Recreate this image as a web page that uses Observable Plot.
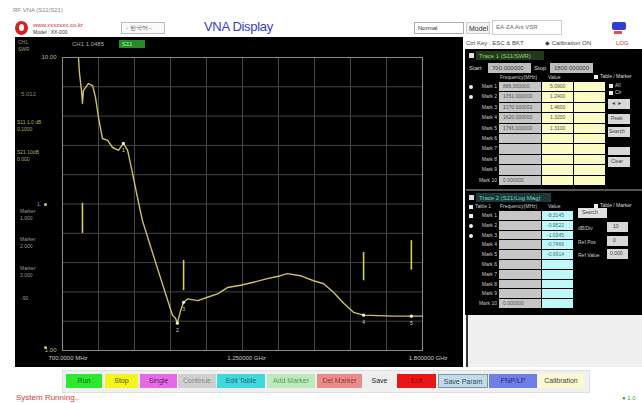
<!DOCTYPE html>
<html><head><meta charset="utf-8">
<script src="https://cdn.jsdelivr.net/npm/d3@7"></script>
<script src="https://cdn.jsdelivr.net/npm/@observablehq/plot@0.6"></script>
<style>
html,body{margin:0;padding:0;background:#fff;}
#root{position:relative;width:642px;height:403px;overflow:hidden;background:#fff;font-family:"Liberation Sans",Arial,sans-serif;}
.a{position:absolute;white-space:nowrap;line-height:1;}
</style></head>
<body><div id="root"></div>
<script>
// ---------- data ----------
const freqStart = 700, freqStop = 1800;           // MHz
const traceFreq = [749,752,758,761,764,779,792,801,810,822,838,853,871,886,899,914,929,944,990,1036,1045,1051,1061,1070,1082,1113,1143,1174,1204,1244,1284,1326,1366,1387,1427,1467,1498,1528,1559,1589,1620,1711,1800];
const traceSwr  = [9.92,8.82,7.72,6.97,7.72,8.15,8.02,7.30,6.24,5.29,5.21,4.93,4.82,5.09,4.82,4.02,3.33,2.78,1.91,1.32,1.29,1.24,1.37,1.46,1.50,1.48,1.52,1.56,1.64,1.67,1.71,1.76,1.80,1.83,1.80,1.73,1.69,1.58,1.45,1.35,1.32,1.31,1.31];
const markerFreq = [886,1051,1070,1620,1766];
const markerSwr  = [5.09,1.24,1.46,1.32,1.31];
const markerS21  = [-8.3145,-0.9522,-1.0345,-0.7466,-0.6914];
const pointerFreq = [761,1070,1620,1766];
const pointerTop  = [3.18,2.03,2.16,2.37];
const pointerBot  = [2.51,1.60,1.73,1.88];
const yTickValues = [10,1];
const yTickLabels = ["10.00","1.00"];
const xTickLabels = ["700.0000 MHz","1.250000 GHz","1.800000 GHz"];
const buttonLabels = ["Run","Stop","Single","Continue","Edit Table","Add Marker","Del Marker","Save","Exit","Save Param","PNP/LP","Calibration"];
const buttonColors = ["#2de82d","#f5f51e","#e46be4","#cfcfcf","#3fd9dd","#bde9bd","#ea8a8a","#efefef","#e81717","#c2dbe6","#6f7fe6","#fbf8d2"];
const buttonText   = ["#0a6a0a","#555500","#6a1a6a","#8a8a8a","#1a6a7a","#5aa05a","#9a3a3a","#222","#a00","#2a4a6a","#2a2a8a","#444"];

// ---------- helpers ----------
const root = document.getElementById("root");
function el(x,y,w,h,css,txt){const d=document.createElement("div");d.className="a";d.style.left=x+"px";d.style.top=y+"px";if(w!=null)d.style.width=w+"px";if(h!=null)d.style.height=h+"px";if(css)d.style.cssText+=css;if(txt!=null)d.textContent=txt;root.appendChild(d);return d;}

// ---------- header ----------
el(13,7,null,null,"font-size:6px;color:#888","RF VNA (S11/S21)");
el(15,21,13,14,"border-radius:50%;background:#d42020");
el(19,24,5,8,"background:#fff;border-radius:50%;width:5px;height:7px");
el(33,22,null,null,"font-size:6px;color:#d03030","www.xxxxxxx.co.kr");
el(33,30,null,null,"font-size:5px;color:#333","Model : XX-000");
el(121,22,44,12,"border:1px solid #bbb;background:#fafafa;font-size:6px;color:#555;padding:2px 0 0 4px;box-sizing:border-box","- 한국어 -");
el(204,20,null,null,"font-size:13px;color:#3340c8;letter-spacing:-0.3px","VNA Display");
el(414,22,50,12,"border:1px solid #aaa;background:#fff;font-size:6px;color:#333;padding:2px 0 0 3px;box-sizing:border-box","Normal");
el(466,22,24,12,"border:1px solid #ccc;background:#f4f4f4;font-size:7px;color:#333;padding:2px 0 0 2px;box-sizing:border-box","Model");
el(492,20,70,15,"border:1px solid #ccc;background:#fff;font-size:6px;color:#666;padding:3px 0 0 3px;box-sizing:border-box","EA-ZA   Ant   VSR");
el(612,22,14,8,"background:#2f3fd0;border-radius:2px");
el(614,31,8,3,"background:#e05050");
el(466,40,null,null,"font-size:6px;color:#444","Ctrl Key : ESC & BKT");
el(545,40,null,null,"font-size:6px;color:#444","◆ Calibration ON");
el(616,40,null,null,"font-size:6px;color:#e03030","LOG");

// ---------- main plot ----------
const trace = traceFreq.map((f,i)=>({f, v: traceSwr[i]}));
const markers = markerFreq.map((f,i)=>({f, v: markerSwr[i], n: String(i+1)}));
const pointers = pointerFreq.map((f,i)=>({f, top: pointerTop[i], bot: pointerBot[i]}));
const xGrid = d3.range(11).map(k => freqStart + k*(freqStop-freqStart)/10);
const yGrid = d3.range(11).map(k => Math.pow(10, k/10));
const yLab = yTickValues.map((v,i)=>({v, t: yTickLabels[i]}));
const xLab = [freqStart, (freqStart+freqStop)/2, freqStop].map((f,i)=>({f, t: xTickLabels[i]}));

const chart = Plot.plot({
  width: 448, height: 330,
  marginLeft: 47, marginTop: 20, marginRight: 41, marginBottom: 17,
  style: {background: "#000", color: "#bbb", fontSize: "7px", fontFamily: "Liberation Sans, Arial, sans-serif", overflow: "visible"},
  x: {domain: [freqStart, freqStop], axis: null},
  y: {type: "log", domain: [1, 10], axis: null},
  marks: [
    Plot.ruleX(xGrid, {stroke: "#464646", strokeWidth: 1}),
    Plot.ruleY(yGrid, {stroke: "#464646", strokeWidth: 1}),
    Plot.frame({stroke: "#8c8c8c"}),
    Plot.line(trace, {x: "f", y: "v", stroke: "#cbc266", strokeWidth: 1.4}),
    Plot.ruleX(pointers, {x: "f", y1: "top", y2: "bot", stroke: "#d6cf55", strokeWidth: 1.6}),
    Plot.dot(markers, {x: "f", y: "v", r: 1.6, fill: "#eee"}),
    Plot.text(markers, {x: "f", y: "v", text: "n", dy: 7, fill: "#ddd", fontSize: 5}),
    Plot.text(yLab, {y: "v", text: "t", frameAnchor: "left", dx: -6, textAnchor: "end", fill: "#bdbd8a", fontSize: 6}),
    Plot.text(xLab.slice(0,1), {x: "f", text: "t", frameAnchor: "bottom", dy: 9, dx: -14, textAnchor: "start", fill: "#ccc", fontSize: 6}),
    Plot.text(xLab.slice(1,2), {x: "f", text: "t", frameAnchor: "bottom", dy: 9, dx: 4, textAnchor: "middle", fill: "#ccc", fontSize: 6}),
    Plot.text(xLab.slice(2,3), {x: "f", text: "t", frameAnchor: "bottom", dy: 9, dx: 25, textAnchor: "end", fill: "#ccc", fontSize: 6})
  ]
});
const wrap = el(15,37,448,330,"background:#000");
wrap.appendChild(chart);

// overlay texts in plot area
el(18,40,null,null,"font-size:5px;color:#9a9a7a","CH1");
el(18,47,null,null,"font-size:5px;color:#9a9a7a","SWR");
el(72,41,null,null,"font-size:6px;color:#aaa","CH1  1.0485");
el(119,40,26,8,"background:#2a8a2a;font-size:6px;color:#9f9;padding:1px 0 0 3px;box-sizing:border-box","S11");
el(21,91,null,null,"font-size:6px;color:#8a8a6a","5.012");
el(17,120,null,null,"font-size:5px;color:#aab05a","S11 1.0 dB");
el(17,127,null,null,"font-size:5px;color:#aab05a","0.1000");
el(17,150,null,null,"font-size:5px;color:#aab05a","S21 10dB");
el(17,157,null,null,"font-size:5px;color:#aab05a","0.000");
el(37,202,null,null,"font-size:5px;color:#aaa","1.");
el(44,203,3,3,"background:#cc4;border-radius:50%");
el(20,209,null,null,"font-size:5px;color:#999","Marker");
el(20,216,null,null,"font-size:5px;color:#999","1.000");
el(20,237,null,null,"font-size:5px;color:#999","Marker");
el(20,244,null,null,"font-size:5px;color:#999","2.000");
el(20,266,null,null,"font-size:5px;color:#999","Marker");
el(20,273,null,null,"font-size:5px;color:#999","3.000");
el(21,296,null,null,"font-size:5px;color:#999","-90");
el(44,346,3,3,"background:#cc4;border-radius:50%");

// ---------- right panel ----------
el(465,49,177,266,"background:#000");
el(466,315,176,52,"background:#efefef;border-left:2px solid #333");
// trace 1
el(469,53,5,5,"background:#ddd");
el(476,51,68,9,"background:#24381c;font-size:6px;color:#8fdc6a;padding:2px 0 0 3px;box-sizing:border-box","Trace 1 (S11/SWR)");
el(469,65,null,null,"font-size:6px;color:#ddd","Start");
el(488,63,43,10,"background:#bdbdbd;font-size:6px;color:#444;padding:2px 0 0 4px;box-sizing:border-box",freqStart.toFixed(6));
el(534,65,null,null,"font-size:6px;color:#ddd","Stop");
el(550,63,43,10,"background:#bdbdbd;font-size:6px;color:#444;padding:2px 0 0 4px;box-sizing:border-box",freqStop.toFixed(6));
el(500,75,null,null,"font-size:5px;color:#ccc","Frequency(MHz)");
el(548,75,null,null,"font-size:5px;color:#ccc","Value");
el(594,75,4,4,"background:#eee");
el(600,74,null,null,"font-size:5px;color:#ddd","Table / Marker");
for (let i=0;i<10;i++){
  const y = 82 + i*10.4;
  if (i<2) el(469,y+3,4,4,"background:#eee;border-radius:50%");
  el(475,y+2,22,null,"font-size:5px;color:#ccc;text-align:right","Mark "+(i+1));
  el(499,y,42,9.4,"background:#c6c6c6;font-size:5px;color:#555;padding:2px 0 0 4px;box-sizing:border-box", i<markerFreq.length? markerFreq[i].toFixed(6) : (i===9?"0.000000":""));
  el(542,y,31,9.4,"background:#fbfbc4;font-size:5px;color:#555;padding:2px 0 0 8px;box-sizing:border-box", i<markerSwr.length? markerSwr[i].toFixed(4):"");
  el(574,y,31,9.4,"background:#fbfbc4");
}
el(609,84,4,4,"background:#eee"); el(615,83,null,null,"font-size:5px;color:#ccc","All");
el(609,91,4,4,"background:#eee"); el(615,90,null,null,"font-size:5px;color:#ccc","Clr");
el(608,99,22,10,"background:#d8d8d8;font-size:5px;color:#444;padding:2px 0 0 3px;box-sizing:border-box","◄ ►");
el(608,114,22,10,"background:#d8d8d8;font-size:5px;color:#444;padding:2px 0 0 3px;box-sizing:border-box","Peak");
el(608,127,22,10,"background:#d8d8d8;font-size:5px;color:#444;padding:2px 0 0 1px;box-sizing:border-box","Search");
el(608,147,22,8,"background:#d8d8d8");
el(608,157,22,10,"background:#d8d8d8;font-size:5px;color:#444;padding:2px 0 0 3px;box-sizing:border-box","Clear");
el(466,189,176,2,"background:#555");
// trace 2
el(469,195,5,5,"background:#ddd");
el(476,193,75,9,"background:#1c3838;font-size:6px;color:#6fd6c6;padding:2px 0 0 3px;box-sizing:border-box","Trace 2 (S21/Log Mag)");
el(469,205,4,4,"background:#eee");
el(475,204,null,null,"font-size:5px;color:#ccc","Table 1");
el(500,204,null,null,"font-size:5px;color:#ccc","Frequency(MHz)");
el(548,204,null,null,"font-size:5px;color:#ccc","Value");
el(594,204,4,4,"background:#eee");
el(600,203,null,null,"font-size:5px;color:#ddd","Table / Marker");
for (let i=0;i<10;i++){
  const y = 211 + i*9.8;
  if (i>=1 && i<3) el(469,y+3,4,4,"background:#eee;border-radius:50%");
  if (i===0) el(469,y+3,4,4,"background:#eee");
  el(475,y+2,22,null,"font-size:5px;color:#ccc;text-align:right","Mark "+(i+1));
  el(499,y,42,8.8,"background:#c6c6c6;font-size:5px;color:#555;padding:2px 0 0 4px;box-sizing:border-box", i===9?"0.000000":"");
  el(542,y,31,8.8,"background:#bff8f8;font-size:5px;color:#4a6a8a;padding:2px 0 0 5px;box-sizing:border-box", i<markerS21.length? markerS21[i].toFixed(4):"");
}
el(578,208,29,10,"background:#e0e0e0;font-size:5px;color:#444;padding:2px 0 0 4px;box-sizing:border-box","Search");
el(578,226,null,null,"font-size:5px;color:#ccc","dB/Div");
el(607,222,21,10,"background:#d8d8d8;font-size:5px;color:#444;padding:2px 0 0 6px;box-sizing:border-box","10");
el(578,240,null,null,"font-size:5px;color:#ccc","Ref Pos");
el(607,236,21,10,"background:#d8d8d8;font-size:5px;color:#444;padding:2px 0 0 6px;box-sizing:border-box","0");
el(578,253,null,null,"font-size:5px;color:#ccc","Ref Value");
el(607,249,21,10,"background:#d8d8d8;font-size:5px;color:#444;padding:2px 0 0 3px;box-sizing:border-box","0.000");

// ---------- bottom buttons ----------
el(62,370,526,21,"background:#f0f0f0;border:1px solid #e0e0e0");
const bx = [66,105,140,178,217,267,317,364,397,438,489,538];
const bw = [36,33,37,38,48,48,45,31,39,50,48,46];
buttonLabels.forEach((t,i)=>{
  el(bx[i],374,bw[i],14,`background:${buttonColors[i]};font-size:7px;color:${buttonText[i]};text-align:center;padding-top:3px;box-sizing:border-box;${i===9?'border:1px solid #7a9aaa;':''}`,t);
});
el(16,394,null,null,"font-size:8px;color:#e03a3a","System Running..");
el(622,395,null,null,"font-size:6px;color:#3a3","● 1.0");
</script></body></html>
